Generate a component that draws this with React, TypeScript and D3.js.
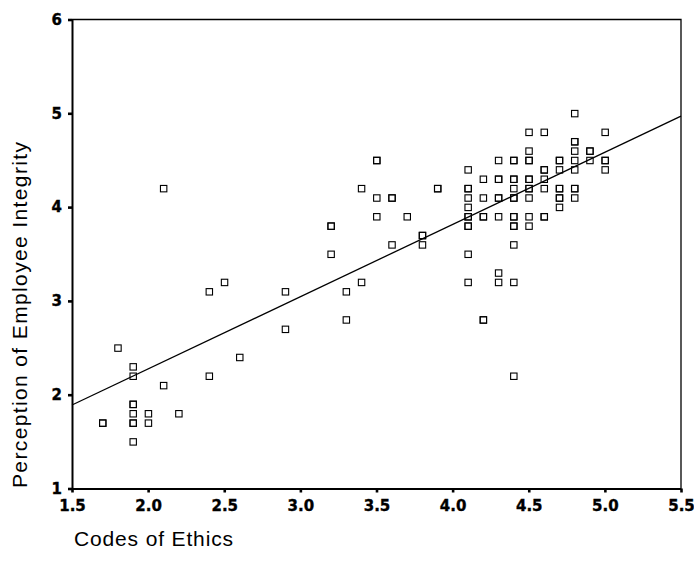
import React, { useEffect, useRef } from 'react';
import * as d3 from 'd3';

// Codes of Ethics (x) and Perception of Employee Integrity (y), one entry per respondent
const codesOfEthics = [
  1.7, 1.7, 1.8, 1.9, 1.9, 1.9, 1.9, 1.9, 1.9, 1.9, 1.9, 2.0, 2.0, 2.1, 2.1, 2.2,
  2.4, 2.4, 2.5, 2.6, 2.9, 2.9,
  3.2, 3.2, 3.2, 3.3, 3.3, 3.4, 3.4, 3.5, 3.5, 3.5, 3.5, 3.6, 3.6, 3.6, 3.7,
  3.8, 3.8, 3.8, 3.9, 3.9,
  4.1, 4.1, 4.1, 4.1, 4.1, 4.1, 4.1, 4.1, 4.1, 4.1, 4.1,
  4.2, 4.2, 4.2, 4.2, 4.2, 4.2,
  4.3, 4.3, 4.3, 4.3, 4.3, 4.3, 4.3, 4.3,
  4.4, 4.4, 4.4, 4.4, 4.4, 4.4, 4.4, 4.4, 4.4, 4.4, 4.4, 4.4, 4.4, 4.4,
  4.5, 4.5, 4.5, 4.5, 4.5, 4.5, 4.5, 4.5, 4.5, 4.5, 4.5,
  4.6, 4.6, 4.6, 4.6, 4.6, 4.6, 4.6,
  4.7, 4.7, 4.7, 4.7, 4.7, 4.7, 4.7, 4.7,
  4.8, 4.8, 4.8, 4.8, 4.8, 4.8, 4.8, 4.8, 4.8,
  4.9, 4.9, 4.9,
  5.0, 5.0, 5.0, 5.0,
];

const employeeIntegrity = [
  1.7, 1.7, 2.5, 2.3, 2.2, 1.9, 1.9, 1.8, 1.7, 1.7, 1.5, 1.8, 1.7, 2.1, 4.2, 1.8,
  2.2, 3.1, 3.2, 2.4, 3.1, 2.7,
  3.8, 3.8, 3.5, 3.1, 2.8, 4.2, 3.2, 4.5, 4.5, 4.1, 3.9, 4.1, 4.1, 3.6, 3.9,
  3.7, 3.7, 3.6, 4.2, 4.2,
  4.4, 4.2, 4.2, 4.1, 4.0, 3.9, 3.9, 3.8, 3.8, 3.5, 3.2,
  4.3, 4.1, 3.9, 3.9, 2.8, 2.8,
  4.5, 4.3, 4.3, 4.1, 4.1, 3.9, 3.3, 3.2,
  4.5, 4.5, 4.3, 4.3, 4.2, 4.1, 4.1, 3.9, 3.9, 3.8, 3.8, 3.6, 3.2, 2.2,
  4.8, 4.6, 4.5, 4.5, 4.3, 4.3, 4.2, 4.2, 4.1, 3.9, 3.8,
  4.8, 4.4, 4.4, 4.3, 4.2, 3.9, 3.9,
  4.5, 4.5, 4.4, 4.2, 4.2, 4.1, 4.1, 4.0,
  5.0, 4.7, 4.7, 4.6, 4.5, 4.4, 4.2, 4.2, 4.1,
  4.6, 4.6, 4.5,
  4.8, 4.5, 4.5, 4.4,
];

const xTicks = [1.5, 2.0, 2.5, 3.0, 3.5, 4.0, 4.5, 5.0, 5.5];
const yTicks = [1, 2, 3, 4, 5, 6];

// fitted line
const fitIntercept = 0.735;
const fitSlope = 0.77;

const App = () => {
  const ref = useRef<SVGSVGElement>(null);

  useEffect(() => {
    const svg = d3.select(ref.current);
    svg.selectAll('*').remove();

    const width = 694;
    const height = 569;
    const margin = { top: 19.5, right: 13, bottom: 80.5, left: 72 };

    const x = d3.scaleLinear()
      .domain([1.5, 5.5])
      .range([margin.left, width - margin.right]);

    const y = d3.scaleLinear()
      .domain([1, 6])
      .range([height - margin.bottom, margin.top]);

    svg.append('rect')
      .attr('width', width)
      .attr('height', height)
      .attr('fill', '#fff');

    // frame: top and right
    svg.append('path')
      .attr('d', `M${x(1.5)},${y(6)}H${x(5.5)}V${y(1)}`)
      .attr('fill', 'none')
      .attr('stroke', '#000')
      .attr('stroke-width', 1.3);

    const xAxis = svg.append('g')
      .attr('transform', `translate(0,${y(1)})`)
      .call(d3.axisBottom(x).tickValues(xTicks).tickFormat(d3.format('.1f')).tickSize(4).tickSizeOuter(0).tickPadding(8));

    const yAxis = svg.append('g')
      .attr('transform', `translate(${x(1.5)},0)`)
      .call(d3.axisLeft(y).tickValues(yTicks).tickFormat(d3.format('d')).tickSize(4).tickSizeOuter(0).tickPadding(6));

    [xAxis, yAxis].forEach(g => {
      g.select('.domain').attr('stroke-width', 2);
      g.selectAll('.tick line').attr('stroke-width', 2.6);
      g.selectAll('.tick text')
        .attr('font-family', '"DejaVu Sans", sans-serif')
        .attr('font-weight', 'bold')
        .attr('font-size', 15)
        .attr('fill', '#000')
        .attr('stroke', '#000')
        .attr('stroke-width', 0.35);
    });

    // regression line
    const line = d3.line<number>()
      .x(d => x(d))
      .y(d => y(fitIntercept + fitSlope * d));

    svg.append('path')
      .datum([1.5, 5.5])
      .attr('fill', 'none')
      .attr('stroke', '#000')
      .attr('stroke-width', 1.3)
      .attr('d', line);

    const s = 6.4;
    svg.append('g')
      .selectAll('rect')
      .data(codesOfEthics.map((c, i) => [c, employeeIntegrity[i]]))
      .join('rect')
      .attr('x', d => x(d[0]) - s / 2 + 0.3)
      .attr('y', d => y(d[1]) - s / 2 + 0.3)
      .attr('width', s)
      .attr('height', s)
      .attr('fill', 'none')
      .attr('stroke', '#000')
      .attr('stroke-width', 1.1);

    svg.append('text')
      .attr('x', 74)
      .attr('y', 546)
      .attr('font-family', '"Liberation Sans", Arial, sans-serif')
      .attr('font-size', 21)
      .attr('textLength', 159)
      .attr('lengthAdjust', 'spacing')
      .attr('fill', '#000')
      .text('Codes of Ethics');

    svg.append('text')
      .attr('transform', 'translate(27,488) rotate(-90)')
      .attr('font-family', '"Liberation Sans", Arial, sans-serif')
      .attr('font-size', 21)
      .attr('textLength', 346)
      .attr('lengthAdjust', 'spacing')
      .attr('fill', '#000')
      .text('Perception of Employee Integrity');
  }, []);

  return (
    <svg
      ref={ref}
      width={694}
      height={569}
      style={{ position: 'absolute', left: 0, top: 0 }}
    ></svg>
  );
};

export default App;
